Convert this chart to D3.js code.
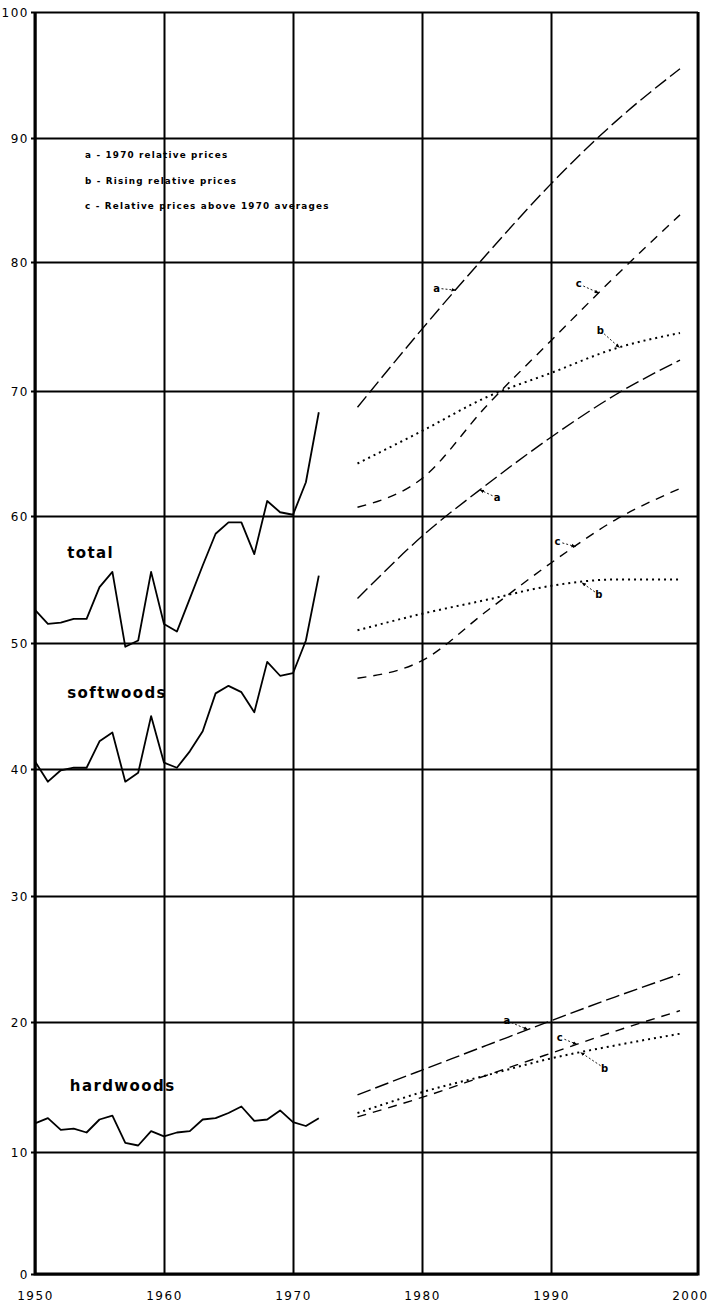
<!DOCTYPE html>
<html>
<head>
<meta charset="utf-8">
<script src="https://cdn.jsdelivr.net/npm/d3@7.9.0/dist/d3.min.js"></script>
<style>
  html, body { margin: 0; padding: 0; background: #fff; }
  svg { display: block; }
  .tick text { font-family: "DejaVu Sans", sans-serif; font-size: 12px; letter-spacing: 1.5px; fill: #000; }
  .name { font-family: "DejaVu Sans", sans-serif; font-weight: bold; font-size: 15px; letter-spacing: 1.4px; }
  .legend { font-family: "DejaVu Sans", sans-serif; font-weight: bold; font-size: 8.8px; letter-spacing: 1.2px; }
  .tag { font-family: "DejaVu Sans", sans-serif; font-weight: bold; font-size: 10px; }
</style>
</head>
<body>
<div id="chart"></div>
<script>
// historical series, 1950-1972
const years = [1950, 1951, 1952, 1953, 1954, 1955, 1956, 1957, 1958, 1959, 1960, 1961,
               1962, 1963, 1964, 1965, 1966, 1967, 1968, 1969, 1970, 1971, 1972];
const total = [52.6, 51.5, 51.6, 51.9, 51.9, 54.4, 55.6, 49.7, 50.2, 55.6, 51.5, 50.9,
               53.5, 56.1, 58.6, 59.5, 59.5, 57.0, 61.2, 60.3, 60.1, 62.7, 68.3];
const softwoods = [40.6, 39.0, 39.9, 40.1, 40.1, 42.2, 42.9, 39.0, 39.7, 44.2, 40.5, 40.1,
                   41.4, 43.0, 46.0, 46.6, 46.1, 44.5, 48.5, 47.4, 47.6, 50.2, 55.3];
const hardwoods = [12.2, 12.6, 11.7, 11.8, 11.5, 12.5, 12.8, 10.7, 10.5, 11.6, 11.2, 11.5,
                   11.6, 12.5, 12.6, 13.0, 13.5, 12.4, 12.5, 13.2, 12.3, 12.0, 12.6];

// projections, 1975-2000 (a, b, c)
const projYears = [1975, 1980, 1985, 1990, 1995, 2000];
const totalA = [68.7, 74.8, 80.6, 86.3, 91.3, 95.5];
const totalB = [64.2, 66.8, 69.5, 71.4, 73.3, 74.5];
const totalC = [60.7, 63.0, 68.8, 73.9, 78.9, 83.8];
const softA = [53.5, 58.4, 62.5, 66.3, 69.7, 72.4];
const softB = [51.0, 52.3, 53.4, 54.5, 55.0, 55.0];
const softC = [47.2, 48.6, 52.5, 56.3, 59.7, 62.2];
const hardA = [14.4, 16.3, 18.2, 20.1, 22.0, 23.8];
const hardB = [13.0, 14.6, 15.9, 17.2, 18.2, 19.1];
const hardC = [12.7, 14.2, 15.9, 17.6, 19.3, 20.9];

const xTicks = [1950, 1960, 1970, 1980, 1990, 2000];
const yTicks = [0, 10, 20, 30, 40, 50, 60, 70, 80, 90, 100];

const legendLines = [
  'a - 1970 relative prices',
  'b - Rising relative prices',
  'c - Relative prices above 1970 averages',
];

const width = 709;
const height = 1313;

const x = d3.scaleLinear().domain([1950, 2000]).range([35, 680]);
// the printed grid is slightly uneven, so each gridline gets its own stop
const y = d3.scaleLinear()
  .domain(yTicks)
  .range([1274, 1152, 1022, 896, 769, 643, 516, 391, 262, 138, 12]);

const xEnd = 2001.4; // frame runs a little past 2000

const svg = d3.select('#chart')
  .append('svg')
  .attr('width', width)
  .attr('height', height);

// horizontal gridlines + left tick labels
const yAxis = svg.append('g')
  .attr('transform', `translate(${x(1950)},0)`)
  .call(d3.axisLeft(y).tickValues(yTicks).tickFormat(d3.format('d'))
    .tickSizeInner(-(x(xEnd) - x(1950))).tickSizeOuter(0).tickPadding(6));
yAxis.select('.domain').remove();
yAxis.selectAll('.tick line')
  .attr('x1', -4)
  .attr('stroke', '#000')
  .attr('stroke-width', 2);
yAxis.selectAll('.tick text').attr('dy', '0.35em');

// vertical gridlines + bottom labels
const xAxis = svg.append('g')
  .attr('transform', `translate(0,${y(0)})`)
  .call(d3.axisBottom(x).tickValues(xTicks).tickFormat(d3.format('d'))
    .tickSizeInner(-(y(0) - y(100))).tickSizeOuter(0).tickPadding(17));
xAxis.select('.domain').remove();
xAxis.selectAll('.tick line').attr('stroke', '#000').attr('stroke-width', 2);
// the last decade has no gridline of its own, the frame closes it and its label sits near the edge
xAxis.selectAll('.tick').filter(d => d === 2000).select('line').remove();
xAxis.selectAll('.tick').filter(d => d === 2000).select('text')
  .attr('x', (x(xEnd) - x(2000)) * 0.55);

// frame
svg.append('path')
  .attr('d', `M${x(1950)},${y(100)}V${y(0)}H${x(xEnd)}V${y(100)}`)
  .attr('fill', 'none')
  .attr('stroke', '#000')
  .attr('stroke-width', 3);

// historical lines
const histLine = d3.line()
  .x((d, i) => x(years[i]))
  .y(d => y(d));

[total, softwoods, hardwoods].forEach(series => {
  svg.append('path')
    .attr('d', histLine(series))
    .attr('fill', 'none')
    .attr('stroke', '#000')
    .attr('stroke-width', 1.8)
    .attr('stroke-linejoin', 'round');
});

// projections
const projLine = d3.line()
  .x((d, i) => x(projYears[i]))
  .y(d => y(d))
  .curve(d3.curveMonotoneX);

const dash = { a: '14,5', b: '2,4', c: '9,7' };
const projections = [
  { key: 'a', values: totalA }, { key: 'b', values: totalB }, { key: 'c', values: totalC },
  { key: 'a', values: softA }, { key: 'b', values: softB }, { key: 'c', values: softC },
  { key: 'a', values: hardA }, { key: 'b', values: hardB }, { key: 'c', values: hardC },
];

projections.forEach(p => {
  svg.append('path')
    .attr('d', projLine(p.values))
    .attr('fill', 'none')
    .attr('stroke', '#000')
    .attr('stroke-width', p.key === 'b' ? 2 : 1.4)
    .attr('stroke-dasharray', dash[p.key]);
});

// group names
const names = [
  { text: 'total', year: 1952.5, value: 56.7 },
  { text: 'softwoods', year: 1952.5, value: 45.6 },
  { text: 'hardwoods', year: 1952.7, value: 14.7 },
];
svg.selectAll('text.name')
  .data(names)
  .join('text')
  .attr('class', 'name')
  .attr('x', d => x(d.year))
  .attr('y', d => y(d.value))
  .text(d => d.text);

// legend
svg.append('g')
  .attr('transform', `translate(${x(1950) + 50},${y(90) + 20})`)
  .selectAll('text')
  .data(legendLines)
  .join('text')
  .attr('class', 'legend')
  .attr('y', (d, i) => i * 25.5)
  .text(d => d);

// a/b/c call-outs: point on the curve and label offset
svg.append('defs').append('marker')
  .attr('id', 'head')
  .attr('viewBox', '0 0 10 10')
  .attr('refX', 9).attr('refY', 5)
  .attr('markerWidth', 5).attr('markerHeight', 5)
  .attr('orient', 'auto')
  .append('path')
  .attr('d', 'M0,1L10,5L0,9Z')
  .attr('fill', '#000');

function valueAt(series, year) {
  return d3.scaleLinear().domain(projYears).range(series)(year);
}

const callouts = [
  { key: 'a', series: totalA, year: 1982.6, dx: -19, dy: -2 },
  { key: 'c', series: totalC, year: 1993.7, dx: -20, dy: -9 },
  { key: 'b', series: totalB, year: 1995.3, dx: -19, dy: -17 },
  { key: 'a', series: softA, year: 1984.5, dx: 17, dy: 8 },
  { key: 'c', series: softC, year: 1991.9, dx: -18, dy: -5 },
  { key: 'b', series: softB, year: 1992.4, dx: 17, dy: 12 },
  { key: 'a', series: hardA, year: 1988.2, dx: -21, dy: -9 },
  { key: 'c', series: hardC, year: 1992.0, dx: -17, dy: -7 },
  { key: 'b', series: hardB, year: 1992.3, dx: 24, dy: 16 },
];

callouts.forEach(c => {
  const tx = x(c.year);
  const ty = y(valueAt(c.series, c.year));
  const lx = tx + c.dx;
  const ly = ty + c.dy;
  const len = Math.hypot(c.dx, c.dy);
  svg.append('line')
    .attr('x1', lx - c.dx / len * 5)
    .attr('y1', ly - c.dy / len * 5)
    .attr('x2', tx)
    .attr('y2', ty)
    .attr('stroke', '#000')
    .attr('stroke-width', 0.9)
    .attr('stroke-dasharray', '2,2')
    .attr('marker-end', 'url(#head)');
  svg.append('text')
    .attr('class', 'tag')
    .attr('x', lx)
    .attr('y', ly)
    .attr('dy', '0.35em')
    .attr('text-anchor', 'middle')
    .text(c.key);
});
</script>
</body>
</html>
